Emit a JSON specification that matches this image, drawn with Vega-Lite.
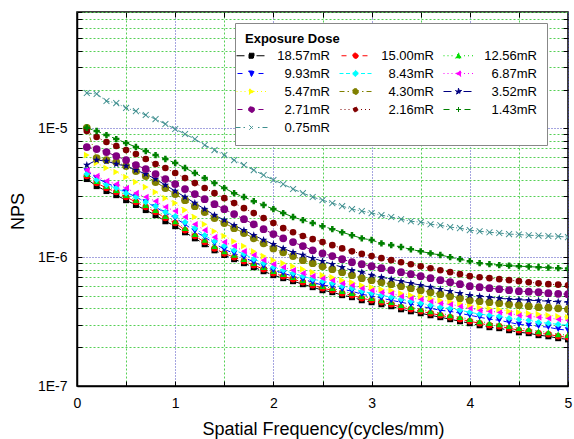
{
"$schema": "https://vega.github.io/schema/vega-lite/v6.json",
"width": 491, "height": 374,
"autosize": {"type": "none"},
"padding": {"left": 77, "top": 12, "right": 6, "bottom": 53},
"background": "white",
"config": {"font": "Liberation Sans", "view": {"stroke": "black", "strokeWidth": 1.5}},
"datasets": {"nps": [
{"s":"18.57mR","f":0.1,"n":4.04e-6},{"s":"18.57mR","f":0.2,"n":3.56e-6},{"s":"18.57mR","f":0.3,"n":3.26e-6},{"s":"18.57mR","f":0.4,"n":3.03e-6},{"s":"18.57mR","f":0.5,"n":2.77e-6},{"s":"18.57mR","f":0.6,"n":2.54e-6},{"s":"18.57mR","f":0.7,"n":2.32e-6},{"s":"18.57mR","f":0.8,"n":2.12e-6},{"s":"18.57mR","f":0.9,"n":1.90e-6},{"s":"18.57mR","f":1,"n":1.74e-6},
{"s":"18.57mR","f":1.1,"n":1.56e-6},{"s":"18.57mR","f":1.2,"n":1.40e-6},{"s":"18.57mR","f":1.3,"n":1.26e-6},{"s":"18.57mR","f":1.4,"n":1.13e-6},{"s":"18.57mR","f":1.5,"n":1.04e-6},{"s":"18.57mR","f":1.6,"n":9.65e-7},{"s":"18.57mR","f":1.7,"n":8.98e-7},{"s":"18.57mR","f":1.8,"n":8.36e-7},{"s":"18.57mR","f":1.9,"n":7.78e-7},{"s":"18.57mR","f":2,"n":7.25e-7},
{"s":"18.57mR","f":2.1,"n":6.87e-7},{"s":"18.57mR","f":2.2,"n":6.51e-7},{"s":"18.57mR","f":2.3,"n":6.17e-7},{"s":"18.57mR","f":2.4,"n":5.85e-7},{"s":"18.57mR","f":2.5,"n":5.54e-7},{"s":"18.57mR","f":2.6,"n":5.35e-7},{"s":"18.57mR","f":2.7,"n":5.07e-7},{"s":"18.57mR","f":2.8,"n":4.89e-7},{"s":"18.57mR","f":2.9,"n":4.63e-7},{"s":"18.57mR","f":3,"n":4.47e-7},
{"s":"18.57mR","f":3.1,"n":4.31e-7},{"s":"18.57mR","f":3.2,"n":4.16e-7},{"s":"18.57mR","f":3.3,"n":3.94e-7},{"s":"18.57mR","f":3.4,"n":3.80e-7},{"s":"18.57mR","f":3.5,"n":3.67e-7},{"s":"18.57mR","f":3.6,"n":3.54e-7},{"s":"18.57mR","f":3.7,"n":3.42e-7},{"s":"18.57mR","f":3.8,"n":3.30e-7},{"s":"18.57mR","f":3.9,"n":3.18e-7},{"s":"18.57mR","f":4,"n":3.07e-7},
{"s":"18.57mR","f":4.1,"n":2.96e-7},{"s":"18.57mR","f":4.2,"n":2.86e-7},{"s":"18.57mR","f":4.3,"n":2.81e-7},{"s":"18.57mR","f":4.4,"n":2.71e-7},{"s":"18.57mR","f":4.5,"n":2.61e-7},{"s":"18.57mR","f":4.6,"n":2.57e-7},{"s":"18.57mR","f":4.7,"n":2.48e-7},{"s":"18.57mR","f":4.8,"n":2.43e-7},{"s":"18.57mR","f":4.9,"n":2.35e-7},{"s":"18.57mR","f":5,"n":2.30e-7},

{"s":"15.00mR","f":0.1,"n":4.26e-6},{"s":"15.00mR","f":0.2,"n":3.76e-6},{"s":"15.00mR","f":0.3,"n":3.44e-6},{"s":"15.00mR","f":0.4,"n":3.20e-6},{"s":"15.00mR","f":0.5,"n":2.93e-6},{"s":"15.00mR","f":0.6,"n":2.68e-6},{"s":"15.00mR","f":0.7,"n":2.45e-6},{"s":"15.00mR","f":0.8,"n":2.24e-6},{"s":"15.00mR","f":0.9,"n":2.01e-6},{"s":"15.00mR","f":1,"n":1.84e-6},
{"s":"15.00mR","f":1.1,"n":1.62e-6},{"s":"15.00mR","f":1.2,"n":1.46e-6},{"s":"15.00mR","f":1.3,"n":1.31e-6},{"s":"15.00mR","f":1.4,"n":1.17e-6},{"s":"15.00mR","f":1.5,"n":1.07e-6},{"s":"15.00mR","f":1.6,"n":1.00e-6},{"s":"15.00mR","f":1.7,"n":9.31e-7},{"s":"15.00mR","f":1.8,"n":8.67e-7},{"s":"15.00mR","f":1.9,"n":8.07e-7},{"s":"15.00mR","f":2,"n":7.51e-7},
{"s":"15.00mR","f":2.1,"n":7.12e-7},{"s":"15.00mR","f":2.2,"n":6.75e-7},{"s":"15.00mR","f":2.3,"n":6.39e-7},{"s":"15.00mR","f":2.4,"n":6.06e-7},{"s":"15.00mR","f":2.5,"n":5.74e-7},{"s":"15.00mR","f":2.6,"n":5.54e-7},{"s":"15.00mR","f":2.7,"n":5.25e-7},{"s":"15.00mR","f":2.8,"n":5.07e-7},{"s":"15.00mR","f":2.9,"n":4.80e-7},{"s":"15.00mR","f":3,"n":4.63e-7},
{"s":"15.00mR","f":3.1,"n":4.47e-7},{"s":"15.00mR","f":3.2,"n":4.31e-7},{"s":"15.00mR","f":3.3,"n":4.09e-7},{"s":"15.00mR","f":3.4,"n":3.94e-7},{"s":"15.00mR","f":3.5,"n":3.80e-7},{"s":"15.00mR","f":3.6,"n":3.67e-7},{"s":"15.00mR","f":3.7,"n":3.54e-7},{"s":"15.00mR","f":3.8,"n":3.42e-7},{"s":"15.00mR","f":3.9,"n":3.30e-7},{"s":"15.00mR","f":4,"n":3.18e-7},
{"s":"15.00mR","f":4.1,"n":3.07e-7},{"s":"15.00mR","f":4.2,"n":2.96e-7},{"s":"15.00mR","f":4.3,"n":2.91e-7},{"s":"15.00mR","f":4.4,"n":2.81e-7},{"s":"15.00mR","f":4.5,"n":2.71e-7},{"s":"15.00mR","f":4.6,"n":2.66e-7},{"s":"15.00mR","f":4.7,"n":2.57e-7},{"s":"15.00mR","f":4.8,"n":2.52e-7},{"s":"15.00mR","f":4.9,"n":2.43e-7},{"s":"15.00mR","f":5,"n":2.39e-7},

{"s":"12.56mR","f":0.1,"n":4.42e-6},{"s":"12.56mR","f":0.2,"n":3.90e-6},{"s":"12.56mR","f":0.3,"n":3.56e-6},{"s":"12.56mR","f":0.4,"n":3.32e-6},{"s":"12.56mR","f":0.5,"n":3.03e-6},{"s":"12.56mR","f":0.6,"n":2.77e-6},{"s":"12.56mR","f":0.7,"n":2.54e-6},{"s":"12.56mR","f":0.8,"n":2.32e-6},{"s":"12.56mR","f":0.9,"n":2.08e-6},{"s":"12.56mR","f":1,"n":1.90e-6},
{"s":"12.56mR","f":1.1,"n":1.68e-6},{"s":"12.56mR","f":1.2,"n":1.51e-6},{"s":"12.56mR","f":1.3,"n":1.36e-6},{"s":"12.56mR","f":1.4,"n":1.22e-6},{"s":"12.56mR","f":1.5,"n":1.11e-6},{"s":"12.56mR","f":1.6,"n":1.04e-6},{"s":"12.56mR","f":1.7,"n":9.65e-7},{"s":"12.56mR","f":1.8,"n":8.98e-7},{"s":"12.56mR","f":1.9,"n":8.36e-7},{"s":"12.56mR","f":2,"n":7.78e-7},
{"s":"12.56mR","f":2.1,"n":7.38e-7},{"s":"12.56mR","f":2.2,"n":6.99e-7},{"s":"12.56mR","f":2.3,"n":6.63e-7},{"s":"12.56mR","f":2.4,"n":6.28e-7},{"s":"12.56mR","f":2.5,"n":5.95e-7},{"s":"12.56mR","f":2.6,"n":5.74e-7},{"s":"12.56mR","f":2.7,"n":5.44e-7},{"s":"12.56mR","f":2.8,"n":5.25e-7},{"s":"12.56mR","f":2.9,"n":4.98e-7},{"s":"12.56mR","f":3,"n":4.80e-7},
{"s":"12.56mR","f":3.1,"n":4.63e-7},{"s":"12.56mR","f":3.2,"n":4.47e-7},{"s":"12.56mR","f":3.3,"n":4.24e-7},{"s":"12.56mR","f":3.4,"n":4.09e-7},{"s":"12.56mR","f":3.5,"n":3.94e-7},{"s":"12.56mR","f":3.6,"n":3.80e-7},{"s":"12.56mR","f":3.7,"n":3.67e-7},{"s":"12.56mR","f":3.8,"n":3.54e-7},{"s":"12.56mR","f":3.9,"n":3.42e-7},{"s":"12.56mR","f":4,"n":3.30e-7},
{"s":"12.56mR","f":4.1,"n":3.18e-7},{"s":"12.56mR","f":4.2,"n":3.07e-7},{"s":"12.56mR","f":4.3,"n":3.01e-7},{"s":"12.56mR","f":4.4,"n":2.91e-7},{"s":"12.56mR","f":4.5,"n":2.81e-7},{"s":"12.56mR","f":4.6,"n":2.76e-7},{"s":"12.56mR","f":4.7,"n":2.66e-7},{"s":"12.56mR","f":4.8,"n":2.61e-7},{"s":"12.56mR","f":4.9,"n":2.52e-7},{"s":"12.56mR","f":5,"n":2.48e-7},

{"s":"9.93mR","f":0.1,"n":4.66e-6},{"s":"9.93mR","f":0.2,"n":4.11e-6},{"s":"9.93mR","f":0.3,"n":3.76e-6},{"s":"9.93mR","f":0.4,"n":3.50e-6},{"s":"9.93mR","f":0.5,"n":3.20e-6},{"s":"9.93mR","f":0.6,"n":2.93e-6},{"s":"9.93mR","f":0.7,"n":2.68e-6},{"s":"9.93mR","f":0.8,"n":2.45e-6},{"s":"9.93mR","f":0.9,"n":2.20e-6},{"s":"9.93mR","f":1,"n":2.01e-6},
{"s":"9.93mR","f":1.1,"n":1.80e-6},{"s":"9.93mR","f":1.2,"n":1.59e-6},{"s":"9.93mR","f":1.3,"n":1.43e-6},{"s":"9.93mR","f":1.4,"n":1.28e-6},{"s":"9.93mR","f":1.5,"n":1.15e-6},{"s":"9.93mR","f":1.6,"n":1.07e-6},{"s":"9.93mR","f":1.7,"n":1.00e-6},{"s":"9.93mR","f":1.8,"n":9.14e-7},{"s":"9.93mR","f":1.9,"n":8.51e-7},{"s":"9.93mR","f":2,"n":7.92e-7},
{"s":"9.93mR","f":2.1,"n":7.51e-7},{"s":"9.93mR","f":2.2,"n":7.12e-7},{"s":"9.93mR","f":2.3,"n":6.75e-7},{"s":"9.93mR","f":2.4,"n":6.39e-7},{"s":"9.93mR","f":2.5,"n":6.06e-7},{"s":"9.93mR","f":2.6,"n":5.95e-7},{"s":"9.93mR","f":2.7,"n":5.64e-7},{"s":"9.93mR","f":2.8,"n":5.44e-7},{"s":"9.93mR","f":2.9,"n":5.16e-7},{"s":"9.93mR","f":3,"n":4.98e-7},
{"s":"9.93mR","f":3.1,"n":4.80e-7},{"s":"9.93mR","f":3.2,"n":4.63e-7},{"s":"9.93mR","f":3.3,"n":4.47e-7},{"s":"9.93mR","f":3.4,"n":4.31e-7},{"s":"9.93mR","f":3.5,"n":4.16e-7},{"s":"9.93mR","f":3.6,"n":4.01e-7},{"s":"9.93mR","f":3.7,"n":3.87e-7},{"s":"9.93mR","f":3.8,"n":3.80e-7},{"s":"9.93mR","f":3.9,"n":3.67e-7},{"s":"9.93mR","f":4,"n":3.54e-7},
{"s":"9.93mR","f":4.1,"n":3.42e-7},{"s":"9.93mR","f":4.2,"n":3.30e-7},{"s":"9.93mR","f":4.3,"n":3.24e-7},{"s":"9.93mR","f":4.4,"n":3.12e-7},{"s":"9.93mR","f":4.5,"n":3.01e-7},{"s":"9.93mR","f":4.6,"n":2.96e-7},{"s":"9.93mR","f":4.7,"n":2.91e-7},{"s":"9.93mR","f":4.8,"n":2.86e-7},{"s":"9.93mR","f":4.9,"n":2.76e-7},{"s":"9.93mR","f":5,"n":2.71e-7},

{"s":"8.43mR","f":0.1,"n":4.42e-6},{"s":"8.43mR","f":0.2,"n":3.97e-6},{"s":"8.43mR","f":0.3,"n":3.63e-6},{"s":"8.43mR","f":0.4,"n":3.44e-6},{"s":"8.43mR","f":0.5,"n":3.14e-6},{"s":"8.43mR","f":0.6,"n":2.93e-6},{"s":"8.43mR","f":0.7,"n":2.68e-6},{"s":"8.43mR","f":0.8,"n":2.49e-6},{"s":"8.43mR","f":0.9,"n":2.24e-6},{"s":"8.43mR","f":1,"n":2.08e-6},
{"s":"8.43mR","f":1.1,"n":1.87e-6},{"s":"8.43mR","f":1.2,"n":1.68e-6},{"s":"8.43mR","f":1.3,"n":1.48e-6},{"s":"8.43mR","f":1.4,"n":1.33e-6},{"s":"8.43mR","f":1.5,"n":1.22e-6},{"s":"8.43mR","f":1.6,"n":1.13e-6},{"s":"8.43mR","f":1.7,"n":1.06e-6},{"s":"8.43mR","f":1.8,"n":9.65e-7},{"s":"8.43mR","f":1.9,"n":8.98e-7},{"s":"8.43mR","f":2,"n":8.36e-7},
{"s":"8.43mR","f":2.1,"n":7.92e-7},{"s":"8.43mR","f":2.2,"n":7.51e-7},{"s":"8.43mR","f":2.3,"n":7.12e-7},{"s":"8.43mR","f":2.4,"n":6.75e-7},{"s":"8.43mR","f":2.5,"n":6.51e-7},{"s":"8.43mR","f":2.6,"n":6.28e-7},{"s":"8.43mR","f":2.7,"n":5.95e-7},{"s":"8.43mR","f":2.8,"n":5.74e-7},{"s":"8.43mR","f":2.9,"n":5.44e-7},{"s":"8.43mR","f":3,"n":5.25e-7},
{"s":"8.43mR","f":3.1,"n":5.07e-7},{"s":"8.43mR","f":3.2,"n":4.89e-7},{"s":"8.43mR","f":3.3,"n":4.72e-7},{"s":"8.43mR","f":3.4,"n":4.55e-7},{"s":"8.43mR","f":3.5,"n":4.39e-7},{"s":"8.43mR","f":3.6,"n":4.24e-7},{"s":"8.43mR","f":3.7,"n":4.09e-7},{"s":"8.43mR","f":3.8,"n":4.01e-7},{"s":"8.43mR","f":3.9,"n":3.87e-7},{"s":"8.43mR","f":4,"n":3.74e-7},
{"s":"8.43mR","f":4.1,"n":3.61e-7},{"s":"8.43mR","f":4.2,"n":3.54e-7},{"s":"8.43mR","f":4.3,"n":3.48e-7},{"s":"8.43mR","f":4.4,"n":3.36e-7},{"s":"8.43mR","f":4.5,"n":3.30e-7},{"s":"8.43mR","f":4.6,"n":3.24e-7},{"s":"8.43mR","f":4.7,"n":3.12e-7},{"s":"8.43mR","f":4.8,"n":3.07e-7},{"s":"8.43mR","f":4.9,"n":3.01e-7},{"s":"8.43mR","f":5,"n":2.96e-7},

{"s":"6.87mR","f":0.1,"n":4.74e-6},{"s":"6.87mR","f":0.2,"n":4.26e-6},{"s":"6.87mR","f":0.3,"n":3.90e-6},{"s":"6.87mR","f":0.4,"n":3.69e-6},{"s":"6.87mR","f":0.5,"n":3.44e-6},{"s":"6.87mR","f":0.6,"n":3.14e-6},{"s":"6.87mR","f":0.7,"n":2.93e-6},{"s":"6.87mR","f":0.8,"n":2.72e-6},{"s":"6.87mR","f":0.9,"n":2.45e-6},{"s":"6.87mR","f":1,"n":2.28e-6},
{"s":"6.87mR","f":1.1,"n":2.05e-6},{"s":"6.87mR","f":1.2,"n":1.80e-6},{"s":"6.87mR","f":1.3,"n":1.62e-6},{"s":"6.87mR","f":1.4,"n":1.43e-6},{"s":"6.87mR","f":1.5,"n":1.31e-6},{"s":"6.87mR","f":1.6,"n":1.22e-6},{"s":"6.87mR","f":1.7,"n":1.11e-6},{"s":"6.87mR","f":1.8,"n":1.04e-6},{"s":"6.87mR","f":1.9,"n":9.48e-7},{"s":"6.87mR","f":2,"n":8.82e-7},
{"s":"6.87mR","f":2.1,"n":8.36e-7},{"s":"6.87mR","f":2.2,"n":7.92e-7},{"s":"6.87mR","f":2.3,"n":7.51e-7},{"s":"6.87mR","f":2.4,"n":7.12e-7},{"s":"6.87mR","f":2.5,"n":6.87e-7},{"s":"6.87mR","f":2.6,"n":6.63e-7},{"s":"6.87mR","f":2.7,"n":6.28e-7},{"s":"6.87mR","f":2.8,"n":6.06e-7},{"s":"6.87mR","f":2.9,"n":5.74e-7},{"s":"6.87mR","f":3,"n":5.54e-7},
{"s":"6.87mR","f":3.1,"n":5.35e-7},{"s":"6.87mR","f":3.2,"n":5.25e-7},{"s":"6.87mR","f":3.3,"n":4.98e-7},{"s":"6.87mR","f":3.4,"n":4.80e-7},{"s":"6.87mR","f":3.5,"n":4.72e-7},{"s":"6.87mR","f":3.6,"n":4.55e-7},{"s":"6.87mR","f":3.7,"n":4.39e-7},{"s":"6.87mR","f":3.8,"n":4.31e-7},{"s":"6.87mR","f":3.9,"n":4.16e-7},{"s":"6.87mR","f":4,"n":4.01e-7},
{"s":"6.87mR","f":4.1,"n":3.87e-7},{"s":"6.87mR","f":4.2,"n":3.80e-7},{"s":"6.87mR","f":4.3,"n":3.74e-7},{"s":"6.87mR","f":4.4,"n":3.67e-7},{"s":"6.87mR","f":4.5,"n":3.54e-7},{"s":"6.87mR","f":4.6,"n":3.48e-7},{"s":"6.87mR","f":4.7,"n":3.42e-7},{"s":"6.87mR","f":4.8,"n":3.36e-7},{"s":"6.87mR","f":4.9,"n":3.30e-7},{"s":"6.87mR","f":5,"n":3.24e-7},

{"s":"5.47mR","f":0.1,"n":6.20e-6},{"s":"5.47mR","f":0.2,"n":5.38e-6},{"s":"5.47mR","f":0.3,"n":4.92e-6},{"s":"5.47mR","f":0.4,"n":4.58e-6},{"s":"5.47mR","f":0.5,"n":4.19e-6},{"s":"5.47mR","f":0.6,"n":3.83e-6},{"s":"5.47mR","f":0.7,"n":3.50e-6},{"s":"5.47mR","f":0.8,"n":3.20e-6},{"s":"5.47mR","f":0.9,"n":2.87e-6},{"s":"5.47mR","f":1,"n":2.63e-6},
{"s":"5.47mR","f":1.1,"n":2.32e-6},{"s":"5.47mR","f":1.2,"n":2.05e-6},{"s":"5.47mR","f":1.3,"n":1.80e-6},{"s":"5.47mR","f":1.4,"n":1.59e-6},{"s":"5.47mR","f":1.5,"n":1.46e-6},{"s":"5.47mR","f":1.6,"n":1.33e-6},{"s":"5.47mR","f":1.7,"n":1.22e-6},{"s":"5.47mR","f":1.8,"n":1.11e-6},{"s":"5.47mR","f":1.9,"n":1.02e-6},{"s":"5.47mR","f":2,"n":9.48e-7},
{"s":"5.47mR","f":2.1,"n":8.98e-7},{"s":"5.47mR","f":2.2,"n":8.51e-7},{"s":"5.47mR","f":2.3,"n":8.07e-7},{"s":"5.47mR","f":2.4,"n":7.65e-7},{"s":"5.47mR","f":2.5,"n":7.25e-7},{"s":"5.47mR","f":2.6,"n":6.99e-7},{"s":"5.47mR","f":2.7,"n":6.63e-7},{"s":"5.47mR","f":2.8,"n":6.39e-7},{"s":"5.47mR","f":2.9,"n":6.06e-7},{"s":"5.47mR","f":3,"n":5.85e-7},
{"s":"5.47mR","f":3.1,"n":5.64e-7},{"s":"5.47mR","f":3.2,"n":5.54e-7},{"s":"5.47mR","f":3.3,"n":5.25e-7},{"s":"5.47mR","f":3.4,"n":5.07e-7},{"s":"5.47mR","f":3.5,"n":4.98e-7},{"s":"5.47mR","f":3.6,"n":4.80e-7},{"s":"5.47mR","f":3.7,"n":4.63e-7},{"s":"5.47mR","f":3.8,"n":4.55e-7},{"s":"5.47mR","f":3.9,"n":4.39e-7},{"s":"5.47mR","f":4,"n":4.24e-7},
{"s":"5.47mR","f":4.1,"n":4.09e-7},{"s":"5.47mR","f":4.2,"n":4.01e-7},{"s":"5.47mR","f":4.3,"n":3.94e-7},{"s":"5.47mR","f":4.4,"n":3.80e-7},{"s":"5.47mR","f":4.5,"n":3.74e-7},{"s":"5.47mR","f":4.6,"n":3.67e-7},{"s":"5.47mR","f":4.7,"n":3.61e-7},{"s":"5.47mR","f":4.8,"n":3.54e-7},{"s":"5.47mR","f":4.9,"n":3.48e-7},{"s":"5.47mR","f":5,"n":3.42e-7},

{"s":"4.30mR","f":0.1,"n":1.01e-5},{"s":"4.30mR","f":0.2,"n":5.88e-6},{"s":"4.30mR","f":0.3,"n":5.67e-6},{"s":"4.30mR","f":0.4,"n":5.47e-6},{"s":"4.30mR","f":0.5,"n":5.10e-6},{"s":"4.30mR","f":0.6,"n":4.66e-6},{"s":"4.30mR","f":0.7,"n":4.26e-6},{"s":"4.30mR","f":0.8,"n":3.83e-6},{"s":"4.30mR","f":0.9,"n":3.44e-6},{"s":"4.30mR","f":1,"n":3.09e-6},
{"s":"4.30mR","f":1.1,"n":2.77e-6},{"s":"4.30mR","f":1.2,"n":2.49e-6},{"s":"4.30mR","f":1.3,"n":2.24e-6},{"s":"4.30mR","f":1.4,"n":2.01e-6},{"s":"4.30mR","f":1.5,"n":1.84e-6},{"s":"4.30mR","f":1.6,"n":1.68e-6},{"s":"4.30mR","f":1.7,"n":1.54e-6},{"s":"4.30mR","f":1.8,"n":1.40e-6},{"s":"4.30mR","f":1.9,"n":1.28e-6},{"s":"4.30mR","f":2,"n":1.17e-6},
{"s":"4.30mR","f":2.1,"n":1.09e-6},{"s":"4.30mR","f":2.2,"n":1.02e-6},{"s":"4.30mR","f":2.3,"n":9.48e-7},{"s":"4.30mR","f":2.4,"n":8.98e-7},{"s":"4.30mR","f":2.5,"n":8.51e-7},{"s":"4.30mR","f":2.6,"n":8.07e-7},{"s":"4.30mR","f":2.7,"n":7.65e-7},{"s":"4.30mR","f":2.8,"n":7.25e-7},{"s":"4.30mR","f":2.9,"n":6.87e-7},{"s":"4.30mR","f":3,"n":6.63e-7},
{"s":"4.30mR","f":3.1,"n":6.39e-7},{"s":"4.30mR","f":3.2,"n":6.17e-7},{"s":"4.30mR","f":3.3,"n":5.95e-7},{"s":"4.30mR","f":3.4,"n":5.74e-7},{"s":"4.30mR","f":3.5,"n":5.54e-7},{"s":"4.30mR","f":3.6,"n":5.35e-7},{"s":"4.30mR","f":3.7,"n":5.16e-7},{"s":"4.30mR","f":3.8,"n":4.98e-7},{"s":"4.30mR","f":3.9,"n":4.80e-7},{"s":"4.30mR","f":4,"n":4.63e-7},
{"s":"4.30mR","f":4.1,"n":4.55e-7},{"s":"4.30mR","f":4.2,"n":4.47e-7},{"s":"4.30mR","f":4.3,"n":4.39e-7},{"s":"4.30mR","f":4.4,"n":4.31e-7},{"s":"4.30mR","f":4.5,"n":4.24e-7},{"s":"4.30mR","f":4.6,"n":4.16e-7},{"s":"4.30mR","f":4.7,"n":4.09e-7},{"s":"4.30mR","f":4.8,"n":4.05e-7},{"s":"4.30mR","f":4.9,"n":4.01e-7},{"s":"4.30mR","f":5,"n":3.94e-7},

{"s":"3.52mR","f":0.1,"n":5.19e-6},{"s":"3.52mR","f":0.2,"n":5.67e-6},{"s":"3.52mR","f":0.3,"n":5.57e-6},{"s":"3.52mR","f":0.4,"n":5.28e-6},{"s":"3.52mR","f":0.5,"n":5.10e-6},{"s":"3.52mR","f":0.6,"n":4.74e-6},{"s":"3.52mR","f":0.7,"n":4.42e-6},{"s":"3.52mR","f":0.8,"n":4.04e-6},{"s":"3.52mR","f":0.9,"n":3.63e-6},{"s":"3.52mR","f":1,"n":3.26e-6},
{"s":"3.52mR","f":1.1,"n":2.93e-6},{"s":"3.52mR","f":1.2,"n":2.63e-6},{"s":"3.52mR","f":1.3,"n":2.36e-6},{"s":"3.52mR","f":1.4,"n":2.12e-6},{"s":"3.52mR","f":1.5,"n":1.94e-6},{"s":"3.52mR","f":1.6,"n":1.77e-6},{"s":"3.52mR","f":1.7,"n":1.62e-6},{"s":"3.52mR","f":1.8,"n":1.48e-6},{"s":"3.52mR","f":1.9,"n":1.36e-6},{"s":"3.52mR","f":2,"n":1.26e-6},
{"s":"3.52mR","f":2.1,"n":1.17e-6},{"s":"3.52mR","f":2.2,"n":1.09e-6},{"s":"3.52mR","f":2.3,"n":1.04e-6},{"s":"3.52mR","f":2.4,"n":9.82e-7},{"s":"3.52mR","f":2.5,"n":9.31e-7},{"s":"3.52mR","f":2.6,"n":8.82e-7},{"s":"3.52mR","f":2.7,"n":8.36e-7},{"s":"3.52mR","f":2.8,"n":7.92e-7},{"s":"3.52mR","f":2.9,"n":7.65e-7},{"s":"3.52mR","f":3,"n":7.25e-7},
{"s":"3.52mR","f":3.1,"n":6.99e-7},{"s":"3.52mR","f":3.2,"n":6.75e-7},{"s":"3.52mR","f":3.3,"n":6.51e-7},{"s":"3.52mR","f":3.4,"n":6.28e-7},{"s":"3.52mR","f":3.5,"n":6.06e-7},{"s":"3.52mR","f":3.6,"n":5.85e-7},{"s":"3.52mR","f":3.7,"n":5.64e-7},{"s":"3.52mR","f":3.8,"n":5.44e-7},{"s":"3.52mR","f":3.9,"n":5.25e-7},{"s":"3.52mR","f":4,"n":5.07e-7},
{"s":"3.52mR","f":4.1,"n":4.98e-7},{"s":"3.52mR","f":4.2,"n":4.89e-7},{"s":"3.52mR","f":4.3,"n":4.80e-7},{"s":"3.52mR","f":4.4,"n":4.72e-7},{"s":"3.52mR","f":4.5,"n":4.68e-7},{"s":"3.52mR","f":4.6,"n":4.63e-7},{"s":"3.52mR","f":4.7,"n":4.60e-7},{"s":"3.52mR","f":4.8,"n":4.55e-7},{"s":"3.52mR","f":4.9,"n":4.51e-7},{"s":"3.52mR","f":5,"n":4.47e-7},

{"s":"2.71mR","f":0.1,"n":7.16e-6},{"s":"2.71mR","f":0.2,"n":6.90e-6},{"s":"2.71mR","f":0.3,"n":6.54e-6},{"s":"2.71mR","f":0.4,"n":6.09e-6},{"s":"2.71mR","f":0.5,"n":5.67e-6},{"s":"2.71mR","f":0.6,"n":5.19e-6},{"s":"2.71mR","f":0.7,"n":4.83e-6},{"s":"2.71mR","f":0.8,"n":4.42e-6},{"s":"2.71mR","f":0.9,"n":4.04e-6},{"s":"2.71mR","f":1,"n":3.69e-6},
{"s":"2.71mR","f":1.1,"n":3.38e-6},{"s":"2.71mR","f":1.2,"n":3.09e-6},{"s":"2.71mR","f":1.3,"n":2.82e-6},{"s":"2.71mR","f":1.4,"n":2.58e-6},{"s":"2.71mR","f":1.5,"n":2.36e-6},{"s":"2.71mR","f":1.6,"n":2.16e-6},{"s":"2.71mR","f":1.7,"n":1.97e-6},{"s":"2.71mR","f":1.8,"n":1.80e-6},{"s":"2.71mR","f":1.9,"n":1.65e-6},{"s":"2.71mR","f":2,"n":1.51e-6},
{"s":"2.71mR","f":2.1,"n":1.40e-6},{"s":"2.71mR","f":2.2,"n":1.31e-6},{"s":"2.71mR","f":2.3,"n":1.22e-6},{"s":"2.71mR","f":2.4,"n":1.13e-6},{"s":"2.71mR","f":2.5,"n":1.07e-6},{"s":"2.71mR","f":2.6,"n":1.02e-6},{"s":"2.71mR","f":2.7,"n":9.65e-7},{"s":"2.71mR","f":2.8,"n":9.14e-7},{"s":"2.71mR","f":2.9,"n":8.82e-7},{"s":"2.71mR","f":3,"n":8.51e-7},
{"s":"2.71mR","f":3.1,"n":8.21e-7},{"s":"2.71mR","f":3.2,"n":7.92e-7},{"s":"2.71mR","f":3.3,"n":7.65e-7},{"s":"2.71mR","f":3.4,"n":7.38e-7},{"s":"2.71mR","f":3.5,"n":7.12e-7},{"s":"2.71mR","f":3.6,"n":6.87e-7},{"s":"2.71mR","f":3.7,"n":6.63e-7},{"s":"2.71mR","f":3.8,"n":6.39e-7},{"s":"2.71mR","f":3.9,"n":6.17e-7},{"s":"2.71mR","f":4,"n":5.95e-7},
{"s":"2.71mR","f":4.1,"n":5.85e-7},{"s":"2.71mR","f":4.2,"n":5.74e-7},{"s":"2.71mR","f":4.3,"n":5.64e-7},{"s":"2.71mR","f":4.4,"n":5.54e-7},{"s":"2.71mR","f":4.5,"n":5.44e-7},{"s":"2.71mR","f":4.6,"n":5.40e-7},{"s":"2.71mR","f":4.7,"n":5.35e-7},{"s":"2.71mR","f":4.8,"n":5.25e-7},{"s":"2.71mR","f":4.9,"n":5.20e-7},{"s":"2.71mR","f":5,"n":5.16e-7},

{"s":"2.16mR","f":0.1,"n":9.53e-6},{"s":"2.16mR","f":0.2,"n":8.56e-6},{"s":"2.16mR","f":0.3,"n":7.83e-6},{"s":"2.16mR","f":0.4,"n":7.29e-6},{"s":"2.16mR","f":0.5,"n":6.78e-6},{"s":"2.16mR","f":0.6,"n":6.31e-6},{"s":"2.16mR","f":0.7,"n":5.78e-6},{"s":"2.16mR","f":0.8,"n":5.28e-6},{"s":"2.16mR","f":0.9,"n":4.92e-6},{"s":"2.16mR","f":1,"n":4.50e-6},
{"s":"2.16mR","f":1.1,"n":4.11e-6},{"s":"2.16mR","f":1.2,"n":3.76e-6},{"s":"2.16mR","f":1.3,"n":3.44e-6},{"s":"2.16mR","f":1.4,"n":3.14e-6},{"s":"2.16mR","f":1.5,"n":2.87e-6},{"s":"2.16mR","f":1.6,"n":2.63e-6},{"s":"2.16mR","f":1.7,"n":2.40e-6},{"s":"2.16mR","f":1.8,"n":2.20e-6},{"s":"2.16mR","f":1.9,"n":2.01e-6},{"s":"2.16mR","f":2,"n":1.84e-6},
{"s":"2.16mR","f":2.1,"n":1.68e-6},{"s":"2.16mR","f":2.2,"n":1.56e-6},{"s":"2.16mR","f":2.3,"n":1.46e-6},{"s":"2.16mR","f":2.4,"n":1.38e-6},{"s":"2.16mR","f":2.5,"n":1.31e-6},{"s":"2.16mR","f":2.6,"n":1.24e-6},{"s":"2.16mR","f":2.7,"n":1.17e-6},{"s":"2.16mR","f":2.8,"n":1.11e-6},{"s":"2.16mR","f":2.9,"n":1.06e-6},{"s":"2.16mR","f":3,"n":1.02e-6},
{"s":"2.16mR","f":3.1,"n":9.82e-7},{"s":"2.16mR","f":3.2,"n":9.48e-7},{"s":"2.16mR","f":3.3,"n":9.14e-7},{"s":"2.16mR","f":3.4,"n":8.82e-7},{"s":"2.16mR","f":3.5,"n":8.51e-7},{"s":"2.16mR","f":3.6,"n":8.21e-7},{"s":"2.16mR","f":3.7,"n":7.92e-7},{"s":"2.16mR","f":3.8,"n":7.65e-7},{"s":"2.16mR","f":3.9,"n":7.38e-7},{"s":"2.16mR","f":4,"n":7.12e-7},
{"s":"2.16mR","f":4.1,"n":6.99e-7},{"s":"2.16mR","f":4.2,"n":6.87e-7},{"s":"2.16mR","f":4.3,"n":6.75e-7},{"s":"2.16mR","f":4.4,"n":6.63e-7},{"s":"2.16mR","f":4.5,"n":6.51e-7},{"s":"2.16mR","f":4.6,"n":6.39e-7},{"s":"2.16mR","f":4.7,"n":6.28e-7},{"s":"2.16mR","f":4.8,"n":6.17e-7},{"s":"2.16mR","f":4.9,"n":6.12e-7},{"s":"2.16mR","f":5,"n":6.06e-7},

{"s":"1.43mR","f":0.1,"n":1.01e-5},{"s":"1.43mR","f":0.2,"n":9.53e-6},{"s":"1.43mR","f":0.3,"n":8.87e-6},{"s":"1.43mR","f":0.4,"n":8.26e-6},{"s":"1.43mR","f":0.5,"n":7.69e-6},{"s":"1.43mR","f":0.6,"n":7.16e-6},{"s":"1.43mR","f":0.7,"n":6.66e-6},{"s":"1.43mR","f":0.8,"n":6.20e-6},{"s":"1.43mR","f":0.9,"n":5.78e-6},{"s":"1.43mR","f":1,"n":5.38e-6},
{"s":"1.43mR","f":1.1,"n":4.92e-6},{"s":"1.43mR","f":1.2,"n":4.50e-6},{"s":"1.43mR","f":1.3,"n":4.11e-6},{"s":"1.43mR","f":1.4,"n":3.76e-6},{"s":"1.43mR","f":1.5,"n":3.44e-6},{"s":"1.43mR","f":1.6,"n":3.14e-6},{"s":"1.43mR","f":1.7,"n":2.93e-6},{"s":"1.43mR","f":1.8,"n":2.72e-6},{"s":"1.43mR","f":1.9,"n":2.54e-6},{"s":"1.43mR","f":2,"n":2.36e-6},
{"s":"1.43mR","f":2.1,"n":2.20e-6},{"s":"1.43mR","f":2.2,"n":2.05e-6},{"s":"1.43mR","f":2.3,"n":1.94e-6},{"s":"1.43mR","f":2.4,"n":1.84e-6},{"s":"1.43mR","f":2.5,"n":1.74e-6},{"s":"1.43mR","f":2.6,"n":1.65e-6},{"s":"1.43mR","f":2.7,"n":1.56e-6},{"s":"1.43mR","f":2.8,"n":1.48e-6},{"s":"1.43mR","f":2.9,"n":1.40e-6},{"s":"1.43mR","f":3,"n":1.36e-6},
{"s":"1.43mR","f":3.1,"n":1.28e-6},{"s":"1.43mR","f":3.2,"n":1.24e-6},{"s":"1.43mR","f":3.3,"n":1.20e-6},{"s":"1.43mR","f":3.4,"n":1.15e-6},{"s":"1.43mR","f":3.5,"n":1.11e-6},{"s":"1.43mR","f":3.6,"n":1.07e-6},{"s":"1.43mR","f":3.7,"n":1.04e-6},{"s":"1.43mR","f":3.8,"n":1.00e-6},{"s":"1.43mR","f":3.9,"n":9.65e-7},{"s":"1.43mR","f":4,"n":9.31e-7},
{"s":"1.43mR","f":4.1,"n":8.98e-7},{"s":"1.43mR","f":4.2,"n":8.82e-7},{"s":"1.43mR","f":4.3,"n":8.67e-7},{"s":"1.43mR","f":4.4,"n":8.60e-7},{"s":"1.43mR","f":4.5,"n":8.51e-7},{"s":"1.43mR","f":4.6,"n":8.45e-7},{"s":"1.43mR","f":4.7,"n":8.36e-7},{"s":"1.43mR","f":4.8,"n":8.30e-7},{"s":"1.43mR","f":4.9,"n":8.21e-7},{"s":"1.43mR","f":5,"n":8.18e-7},

{"s":"0.75mR","f":0.1,"n":1.88e-5},{"s":"0.75mR","f":0.2,"n":1.85e-5},{"s":"0.75mR","f":0.3,"n":1.63e-5},{"s":"0.75mR","f":0.4,"n":1.57e-5},{"s":"0.75mR","f":0.5,"n":1.44e-5},{"s":"0.75mR","f":0.6,"n":1.36e-5},{"s":"0.75mR","f":0.7,"n":1.27e-5},{"s":"0.75mR","f":0.8,"n":1.18e-5},{"s":"0.75mR","f":0.9,"n":1.08e-5},{"s":"0.75mR","f":1,"n":9.88e-6},
{"s":"0.75mR","f":1.1,"n":9.03e-6},{"s":"0.75mR","f":1.2,"n":8.26e-6},{"s":"0.75mR","f":1.3,"n":7.42e-6},{"s":"0.75mR","f":1.4,"n":6.78e-6},{"s":"0.75mR","f":1.5,"n":6.20e-6},{"s":"0.75mR","f":1.6,"n":5.67e-6},{"s":"0.75mR","f":1.7,"n":5.19e-6},{"s":"0.75mR","f":1.8,"n":4.74e-6},{"s":"0.75mR","f":1.9,"n":4.34e-6},{"s":"0.75mR","f":2,"n":3.97e-6},
{"s":"0.75mR","f":2.1,"n":3.69e-6},{"s":"0.75mR","f":2.2,"n":3.38e-6},{"s":"0.75mR","f":2.3,"n":3.14e-6},{"s":"0.75mR","f":2.4,"n":2.93e-6},{"s":"0.75mR","f":2.5,"n":2.77e-6},{"s":"0.75mR","f":2.6,"n":2.63e-6},{"s":"0.75mR","f":2.7,"n":2.49e-6},{"s":"0.75mR","f":2.8,"n":2.36e-6},{"s":"0.75mR","f":2.9,"n":2.28e-6},{"s":"0.75mR","f":3,"n":2.20e-6},
{"s":"0.75mR","f":3.1,"n":2.12e-6},{"s":"0.75mR","f":3.2,"n":2.05e-6},{"s":"0.75mR","f":3.3,"n":1.97e-6},{"s":"0.75mR","f":3.4,"n":1.90e-6},{"s":"0.75mR","f":3.5,"n":1.87e-6},{"s":"0.75mR","f":3.6,"n":1.80e-6},{"s":"0.75mR","f":3.7,"n":1.77e-6},{"s":"0.75mR","f":3.8,"n":1.71e-6},{"s":"0.75mR","f":3.9,"n":1.68e-6},{"s":"0.75mR","f":4,"n":1.62e-6},
{"s":"0.75mR","f":4.1,"n":1.59e-6},{"s":"0.75mR","f":4.2,"n":1.56e-6},{"s":"0.75mR","f":4.3,"n":1.54e-6},{"s":"0.75mR","f":4.4,"n":1.51e-6},{"s":"0.75mR","f":4.5,"n":1.50e-6},{"s":"0.75mR","f":4.6,"n":1.48e-6},{"s":"0.75mR","f":4.7,"n":1.47e-6},{"s":"0.75mR","f":4.8,"n":1.46e-6},{"s":"0.75mR","f":4.9,"n":1.45e-6},{"s":"0.75mR","f":5,"n":1.43e-6}
]},
"data": {"name": "nps"},
"resolve": {"axis": {"x": "independent", "y": "independent"}},
"encoding": {
"x": {"field": "f", "type": "quantitative", "scale": {"domain": [0, 5], "nice": false, "zero": false}, "axis": null},
"y": {"field": "n", "type": "quantitative", "scale": {"type": "log", "domain": [1e-7, 8e-5], "nice": false}, "axis": null},
"color": {"field": "s", "type": "nominal",
 "scale": {"domain": ["18.57mR","15.00mR","12.56mR","9.93mR","8.43mR","6.87mR","5.47mR","4.30mR","3.52mR","2.71mR","2.16mR","1.43mR","0.75mR"],
  "range": ["#000000","#ff0000","#00dd00","#0000ff","#00ffff","#ff00ff","#ffff00","#808000","#000080","#800080","#800000","#008000","#3f8f8f"]},
 "legend": {"title": "Exposure Dose", "orient": "none", "direction": "horizontal", "legendX": 158, "legendY": 11, "columns": 3, "columnPadding": 7, "rowPadding": 4, "padding": 10,
  "fillColor": "white", "strokeColor": "#888888", "titleFontSize": 13, "titleFontWeight": "bold", "titleColor": "black", "titlePadding": 3,
  "labelFontSize": 13, "labelColor": "black", "labelAlign": "right", "labelOffset": 72, "symbolSize": 100,
  "encode": {"symbols": {"update": {
   "shape": {"signal": "['M-3,0H-1M1,0H3M-0.5,-0.5H0.5V0.5H-0.5Z','M-2.8,0H-1.4M1.4,0H2.8M0.55,0A0.55,0.55,0,1,1,-0.55,0A0.55,0.55,0,1,1,0.55,0Z','M-3,0H-2.7M-2.2,0H-1.9M-1.4,0H-1.1M1.1,0H1.4M1.9,0H2.2M2.7,0H3M0,-0.6L0.6,0.5L-0.6,0.5Z','M-2.8,0H-1.4M1.4,0H2.8M0,0.6L0.6,-0.5L-0.6,-0.5Z','M-3.2,0H-2.4M-1.9,0H-1.1M1.1,0H1.9M2.4,0H3.2M0,-0.65L0.65,0L0,0.65L-0.65,0Z','M-3,0H-2.7M-2.2,0H-1.9M-1.4,0H-1.1M1.1,0H1.4M1.9,0H2.2M2.7,0H3M-0.6,0L0.5,-0.6L0.5,0.6Z','M-3,0H-2.7M-2.2,0H-1.9M-1.4,0H-1.1M1.1,0H1.4M1.9,0H2.2M2.7,0H3M0.6,0L-0.5,-0.6L-0.5,0.6Z','M-3.2,0H-2.2M-1.6,0H-1.3M1.3,0H1.6M2.2,0H3.2M0.6,0A0.6,0.6,0,1,1,-0.6,0A0.6,0.6,0,1,1,0.6,0Z','M-3,0H-1M1,0H3M0,-0.65L0.153,-0.211L0.618,-0.201L0.247,0.081L0.382,0.526L0,0.26L-0.382,0.526L-0.247,0.081L-0.618,-0.201L-0.153,-0.211Z','M-2.8,0H-1.4M1.4,0H2.8M0.6,0A0.6,0.6,0,1,1,-0.6,0A0.6,0.6,0,1,1,0.6,0Z','M-3,0H-2.7M-2.2,0H-1.9M-1.4,0H-1.1M1.1,0H1.4M1.9,0H2.2M2.7,0H3M0.5,0A0.5,0.5,0,1,1,-0.5,0A0.5,0.5,0,1,1,0.5,0Z','M-3,0H-1.2M1.2,0H3M-0.5,0H0.5M0,-0.5V0.5','M-3.2,0H-2.2M-1.6,0H-1.3M1.3,0H1.6M2.2,0H3.2M-0.45,-0.45L0.45,0.45M-0.45,0.45L0.45,-0.45'][indexof(['18.57mR','15.00mR','12.56mR','9.93mR','8.43mR','6.87mR','5.47mR','4.30mR','3.52mR','2.71mR','2.16mR','1.43mR','0.75mR'], datum.value)]"},
   "strokeWidth": {"value": 1},
   "strokeDash": {"value": []},
   "size": {"value": 100},
   "opacity": {"value": 1}
  }}}}}
},
"layer": [
{
"mark": {"type": "line", "strokeWidth": 1, "clip": true},
"encoding": {
"x": {"field": "f", "type": "quantitative", "scale": {"domain": [0, 5], "nice": false, "zero": false},
 "axis": {"title": "Spatial Frequency(cycles/mm)", "values": [0,0.5,1,1.5,2,2.5,3,3.5,4,4.5,5],
  "labelExpr": "datum.value % 1 === 0 ? format(datum.value, 'd') : ''", "labelOverlap": false, "labelFlush": false,
  "grid": true, "gridColor": {"condition": {"test": "datum.value % 1 === 0", "value": "#4b4bc0"}, "value": "#55d055"},
  "gridDash": {"condition": {"test": "datum.value % 1 === 0", "value": [1, 2]}, "value": [2, 2]}, "gridWidth": 1,
  "tickSize": -5, "tickColor": "black", "tickWidth": 1, "domainColor": "black", "domainWidth": 1.5,
  "labelFontSize": 14, "labelColor": "black", "labelPadding": 26, "labelBaseline": "alphabetic",
  "titleFontSize": 18, "titleFontWeight": "normal", "titleColor": "black", "titleX": 246, "titleY": 48, "titleBaseline": "alphabetic", "titleAlign": "center"}},
"y": {"field": "n", "type": "quantitative", "scale": {"type": "log", "domain": [1e-7, 8e-5], "nice": false},
 "axis": {"title": "NPS", "values": [1e-7,2e-7,3e-7,4e-7,5e-7,6e-7,7e-7,8e-7,9e-7,1e-6,2e-6,3e-6,4e-6,5e-6,6e-6,7e-6,8e-6,9e-6,1e-5,2e-5,3e-5,4e-5,5e-5,6e-5,7e-5,8e-5],
  "labelExpr": "datum.value == 1e-5 ? '1E-5' : datum.value == 1e-6 ? '1E-6' : datum.value == 1e-7 ? '1E-7' : ''", "labelOverlap": false, "labelFlush": false,
  "grid": true, "gridColor": {"condition": {"test": "datum.value == 1e-5 || datum.value == 1e-6 || datum.value == 1e-7", "value": "#4b4bc0"}, "value": "#55d055"},
  "gridDash": {"condition": {"test": "datum.value == 1e-5 || datum.value == 1e-6 || datum.value == 1e-7", "value": [1, 2]}, "value": [2, 2]}, "gridWidth": 1,
  "tickSize": -5, "tickColor": "black", "tickWidth": 1, "domainColor": "black", "domainWidth": 1.5,
  "labelFontSize": 14, "labelColor": "black", "labelPadding": 15,
  "titleFontSize": 18, "titleFontWeight": "normal", "titleColor": "black", "titleX": -59, "titleY": 199, "titleBaseline": "middle", "titleAlign": "center", "titleAngle": -90}},
"strokeDash": {"field": "s", "type": "nominal",
 "scale": {"domain": ["18.57mR","15.00mR","12.56mR","9.93mR","8.43mR","6.87mR","5.47mR","4.30mR","3.52mR","2.71mR","2.16mR","1.43mR","0.75mR"],
  "range": [[8,3],[5,3],[1,3],[5,3],[4,2,1,2],[1,3],[1,3],[5,2,1,2],[8,3],[5,3],[1,3],[6,3],[5,2,1,2]]},
 "legend": null}
}
},
{"transform": [{"filter": "datum.s === '18.57mR'"}], "mark": {"type": "point", "shape": "square", "filled": true, "size": 36, "opacity": 1, "clip": true}},
{"transform": [{"filter": "datum.s === '15.00mR'"}], "mark": {"type": "point", "shape": "circle", "filled": true, "size": 42, "opacity": 1, "clip": true}},
{"transform": [{"filter": "datum.s === '12.56mR'"}], "mark": {"type": "point", "shape": "triangle-up", "filled": true, "size": 44, "opacity": 1, "clip": true}},
{"transform": [{"filter": "datum.s === '9.93mR'"}], "mark": {"type": "point", "shape": "triangle-down", "filled": true, "size": 44, "opacity": 1, "clip": true}},
{"transform": [{"filter": "datum.s === '8.43mR'"}], "mark": {"type": "point", "shape": "diamond", "filled": true, "size": 44, "opacity": 1, "clip": true}},
{"transform": [{"filter": "datum.s === '6.87mR'"}], "mark": {"type": "point", "shape": "triangle-left", "filled": true, "size": 44, "opacity": 1, "clip": true}},
{"transform": [{"filter": "datum.s === '5.47mR'"}], "mark": {"type": "point", "shape": "triangle-right", "filled": true, "size": 44, "opacity": 1, "clip": true}},
{"transform": [{"filter": "datum.s === '4.30mR'"}], "mark": {"type": "point", "shape": "circle", "filled": true, "size": 60, "opacity": 1, "clip": true}},
{"transform": [{"filter": "datum.s === '3.52mR'"}], "mark": {"type": "point", "shape": "M0,-1L0.235,-0.324L0.951,-0.309L0.38,0.124L0.588,0.809L0,0.4L-0.588,0.809L-0.38,0.124L-0.951,-0.309L-0.235,-0.324Z", "filled": true, "size": 64, "opacity": 1, "clip": true}},
{"transform": [{"filter": "datum.s === '2.71mR'"}], "mark": {"type": "point", "shape": "circle", "filled": true, "size": 60, "opacity": 1, "clip": true}},
{"transform": [{"filter": "datum.s === '2.16mR'"}], "mark": {"type": "point", "shape": "circle", "filled": true, "size": 44, "opacity": 1, "clip": true}},
{"transform": [{"filter": "datum.s === '1.43mR'"}], "mark": {"type": "point", "shape": "cross", "filled": true, "size": 40, "opacity": 1, "clip": true}},
{"transform": [{"filter": "datum.s === '0.75mR'"}], "mark": {"type": "point", "shape": "M-1,-0.8L-0.8,-1L0,-0.2L0.8,-1L1,-0.8L0.2,0L1,0.8L0.8,1L0,0.2L-0.8,1L-1,0.8L-0.2,0Z", "filled": true, "size": 44, "opacity": 1, "clip": true}},
{
"mark": {"type": "point", "opacity": 0},
"encoding": {
"x": {"field": "f", "type": "quantitative", "scale": {"domain": [0, 5], "nice": false, "zero": false},
 "axis": {"orient": "top", "labels": false, "title": null, "grid": false, "domain": false, "tickSize": -5, "tickColor": "black", "values": [0.5,1,1.5,2,2.5,3,3.5,4,4.5]}},
"y": {"field": "n", "type": "quantitative", "scale": {"type": "log", "domain": [1e-7, 8e-5], "nice": false},
 "axis": {"orient": "right", "labels": false, "title": null, "grid": false, "domain": false, "tickSize": -5, "tickColor": "black", "values": [2e-7,3e-7,4e-7,5e-7,6e-7,7e-7,8e-7,9e-7,1e-6,2e-6,3e-6,4e-6,5e-6,6e-6,7e-6,8e-6,9e-6,1e-5,2e-5,3e-5,4e-5,5e-5,6e-5,7e-5]}}
}
}
]
}
